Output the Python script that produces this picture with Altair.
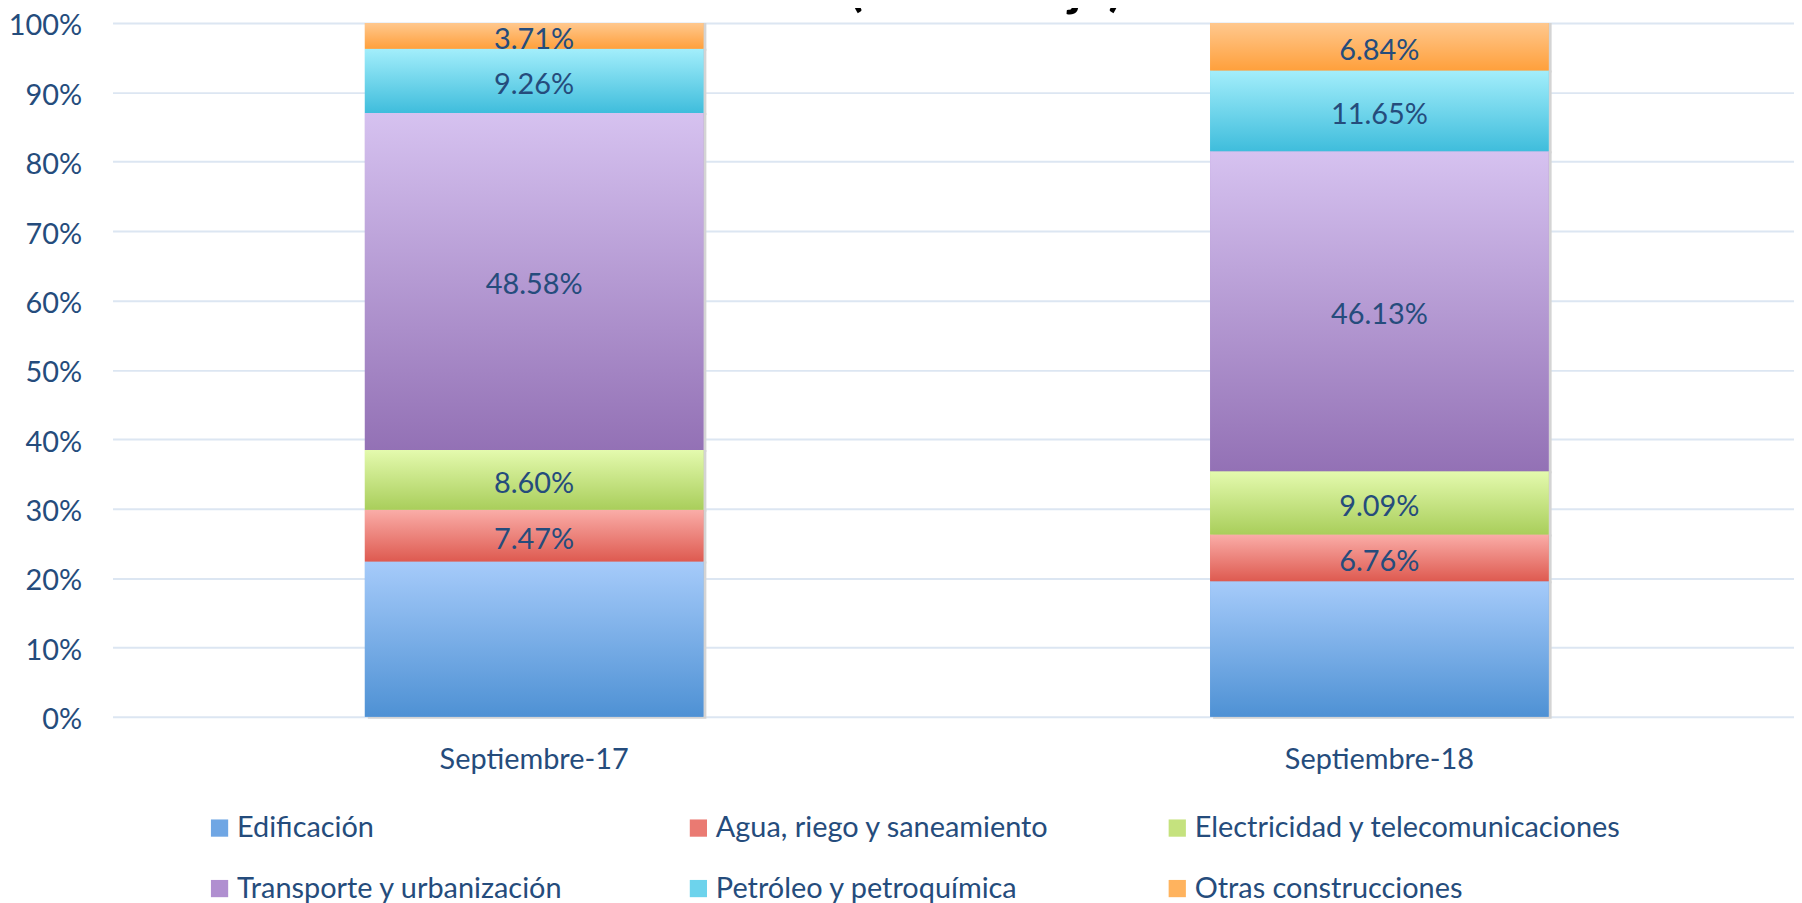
import altair as alt
import pandas as pd

# ---- data ----
periods = ["Septiembre-17", "Septiembre-18"]
series = [
    "Edificación",
    "Agua, riego y saneamiento",
    "\u00a0Electricidad y telecomunicaciones",
    "Transporte y urbanización",
    "Petróleo y petroquímica",
    "Otras construcciones",
]
sep17 = [22.38, 7.47, 8.60, 48.58, 9.26, 3.71]
sep18 = [19.53, 6.76, 9.09, 46.13, 11.65, 6.84]
labelled = [False, True, True, True, True, True]

# gradient (top, bottom) colours and flat legend colours
grad_top = ["#A6CBFA", "#FAADA8", "#E4FAAE", "#D6C2F0", "#A3EEFB", "#FFC88E"]
grad_bot = ["#4E91D4", "#DE5A50", "#A9CE5B", "#9371B5", "#3FBDDC", "#FFA03C"]
legend_col = ["#6FA6E4", "#EA7A72", "#C5E27E", "#B08FD0", "#6DD3EC", "#FFB35E"]

TEXT = "#254C7C"
FONT = "Lato"
FS = 29

rows = []
for p, vals in zip(periods, [sep17, sep18]):
    for i, (s, v) in enumerate(zip(series, vals)):
        rows.append({"period": p, "series": s, "value": v, "order": i, "show": labelled[i]})
df = pd.DataFrame(rows)

xscale = alt.Scale(domain=periods, paddingInner=0.5995, paddingOuter=0.2944, align=0.507)
yscale = alt.Scale(domain=[0, 100], nice=False)

xaxis = alt.Axis(title=None, labelFont=FONT, labelFontSize=FS, labelColor=TEXT,
                 labelPadding=29, ticks=False, tickSize=0, domain=False, labelAngle=0,
                 grid=False, labelLimit=500)
yaxis = alt.Axis(title=None, values=list(range(0, 101, 10)), labelExpr="datum.value + '%'",
                 labelFont=FONT, labelFontSize=FS, labelColor=TEXT, ticks=False, tickSize=0,
                 labelPadding=31, labelOffset=3, domain=False, grid=True,
                 gridColor="#DCE6F2", gridWidth=2)

X = alt.X("period:N", scale=xscale, axis=xaxis, sort=periods)
Y0 = alt.Y("v0:Q", scale=yscale, axis=yaxis)

base = alt.Chart(df).transform_stack(
    stack="value", groupby=["period"], as_=["v0", "v1"],
    sort=[alt.SortField("order", order="ascending")],
)

shadow = base.mark_bar(color="#D4D4D4", xOffset=3, yOffset=2).encode(
    x=X, y=Y0, y2="v1:Q",
)

flat = base.mark_bar().encode(
    x=X, y=Y0, y2="v1:Q",
    color=alt.Color("series:N", scale=alt.Scale(domain=series, range=legend_col),
                    legend=alt.Legend(
                        title=None, orient="none", legendX=93, legendY=794,
                        direction="horizontal", columns=3, gridAlign="all",
                        symbolType="square", symbolSize=300, symbolStrokeWidth=0,
                        labelFont=FONT, labelFontSize=FS, labelColor=TEXT,
                        labelOffset=3, columnPadding=20, rowPadding=31,
                        labelLimit=700, padding=0)),
)

grads = []
for i, s in enumerate(series):
    g = alt.Gradient(gradient="linear", x1=0, y1=0, x2=0, y2=1,
                     stops=[alt.GradientStop(offset=0, color=grad_top[i]),
                            alt.GradientStop(offset=1, color=grad_bot[i])])
    grads.append(
        base.transform_filter(alt.datum.series == s).mark_bar(fill=g).encode(
            x=X, y=Y0, y2="v1:Q",
        )
    )

labels = base.transform_filter("datum.show").transform_calculate(
    mid="(datum.v0 + datum.v1) / 2",
    txt="format(datum.value, '.2f') + '%'",
).mark_text(font=FONT, fontSize=FS, color=TEXT, baseline="middle", align="center", dy=4).encode(
    x=X,
    y=alt.Y("mid:Q", scale=yscale, axis=yaxis),
    text="txt:N",
)

title_df = pd.DataFrame({"t": ["(Porcentaje)"]})
title = alt.Chart(title_df).mark_text(
    font=FONT, fontSize=52, fontWeight="bold", color="#000000",
    align="center", baseline="alphabetic",
).encode(x=alt.value(877), y=alt.value(-18), text="t:N")

chart = alt.layer(shadow, flat, *grads, labels, title).properties(
    width=1689, height=697,
    autosize=alt.AutoSizeParams(type="none"),
    padding={"left": 105, "top": 13, "right": 0, "bottom": 185},
).configure_view(stroke=None)

chart.save("out.html", embed_options={"renderer": "svg", "actions": False})
